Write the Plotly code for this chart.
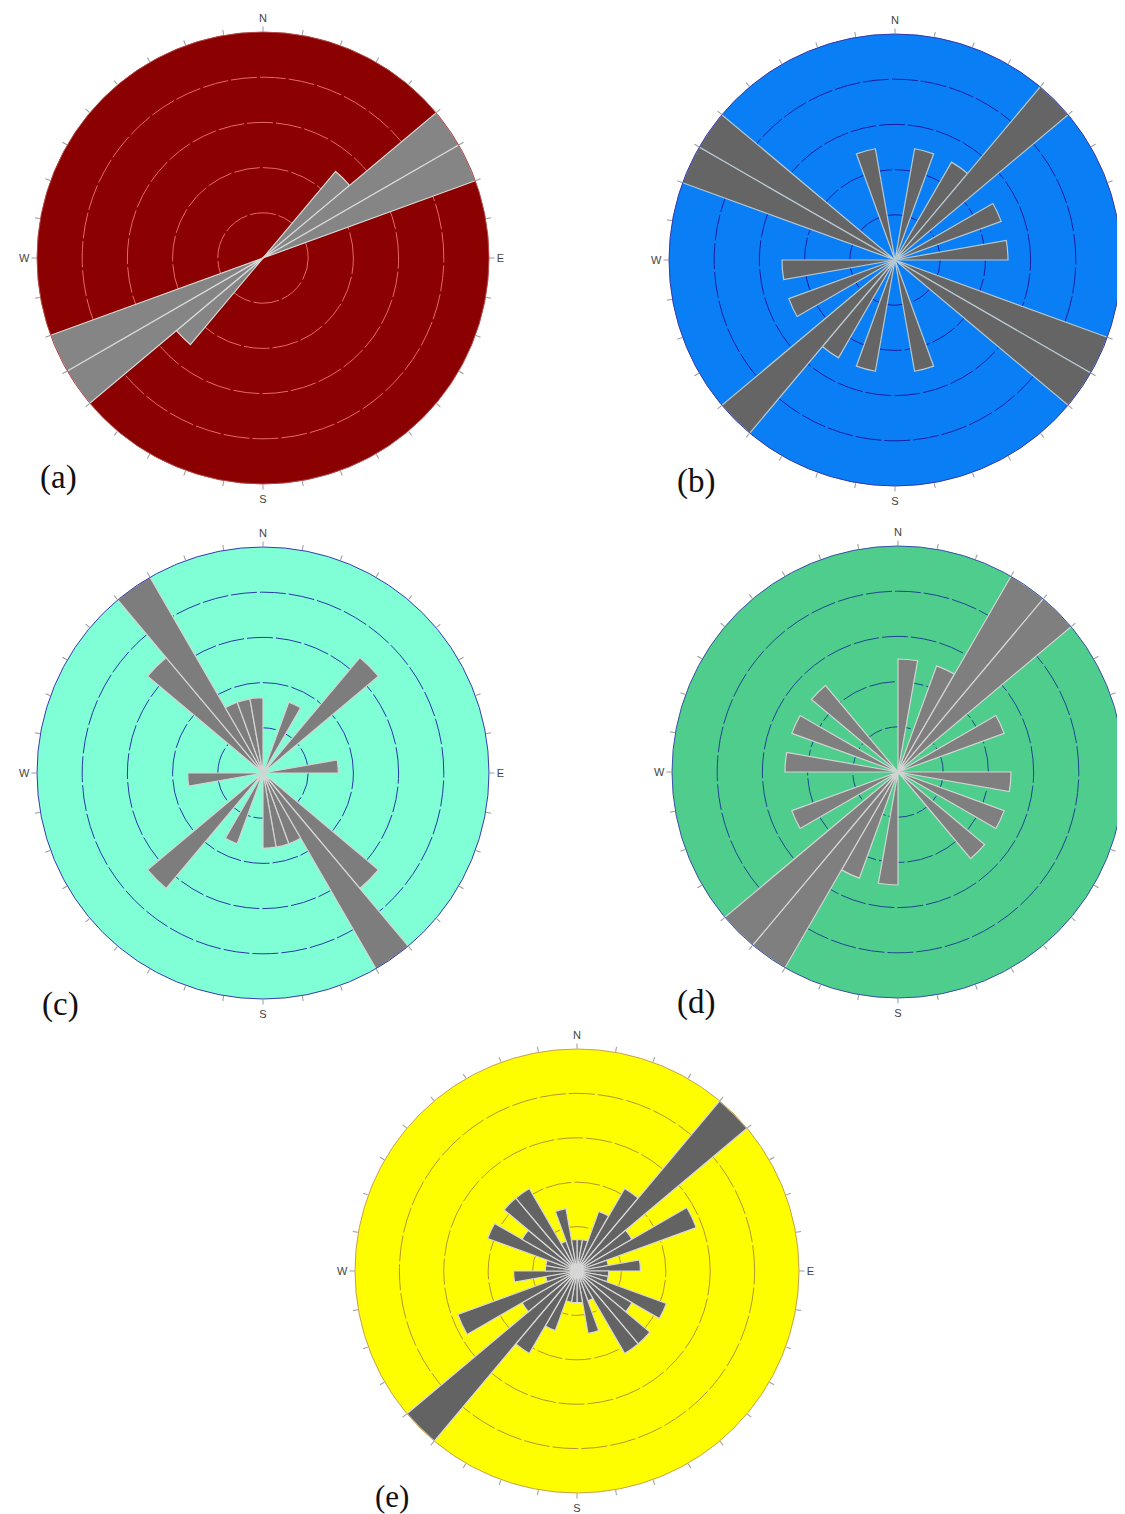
import plotly.graph_objects as go

# 10-degree direction bins (centres) shared by all rose diagrams
bin_centres = [5 + 10 * i for i in range(36)]
tick_angles = list(range(0, 360, 10))
tick_labels = ["N" if a == 0 else "E" if a == 90 else "S" if a == 180 else "W" if a == 270 else "" for a in tick_angles]

# counts per bin (bins 0-10, 10-20, ..., 350-360)
half_a = [0, 0, 0, 0, 1, 2, 2, 0, 0, 0, 0, 0, 0, 0, 0, 0, 0, 0]
half_b = [0, 1, 0, 1, 2, 0, 1, 0, 1, 0, 0, 2, 2, 0, 0, 0, 1, 0]
half_c = [0, 0, 1, 0, 2, 0, 0, 0, 1, 0, 0, 0, 0, 2, 3, 1, 1, 1]
half_d = [1, 0, 1, 2, 2, 0, 1, 0, 0, 1, 0, 1, 0, 1, 0, 0, 0, 0]
half_e = [1, 1, 2, 3, 7, 2, 4, 1, 2, 1, 1, 3, 2, 3, 3, 1, 2, 1]
counts_a = half_a + half_a
counts_b = half_b + half_b
counts_c = half_c + half_c
counts_d = half_d + half_d
counts_e = half_e + half_e

panel_names = ["(a)", "(b)", "(c)", "(d)", "(e)"]
panel_counts = [counts_a, counts_b, counts_c, counts_d, counts_e]
panel_max = [2, 2, 3, 2, 7]

W, H = 1125, 1514
# styling per panel
centres = [(255, 250), (887, 252), (255, 765), (890, 764), (569, 1263)]
radii = [226, 226, 226, 226, 222]
bg_colors = ["#8b0000", "#0a7ff5", "#80fed5", "#4ecd8d", "#fefe00"]
ring_colors = ["#e56a66", "#1c1ca0", "#2838a6", "#1f4690", "#b99234"]
outer_colors = ["#b24848", "#3838a8", "#3a3ab0", "#3a50a8", "#c8a050"]
petal_colors = ["#858585", "#656565", "#7d7d7d", "#7f7f7f", "#636363"]
edge_colors = ["#d8d8d8", "#b8c8d0", "#d4d4d4", "#d4d4d4", "#d8d8d8"]
label_pos = [(50, 470), (688, 473), (52, 996), (688, 994), (384, 1488)]

fig = go.Figure()
layout_polars = {}
for k in range(5):
    pid = "polar" if k == 0 else f"polar{k+1}"
    fig.add_trace(go.Barpolar(
        r=panel_counts[k], theta=bin_centres, width=[10] * 36,
        marker=dict(color=petal_colors[k], line=dict(color=edge_colors[k], width=1.2)),
        subplot=pid, showlegend=False, hoverinfo="skip"))
    cx, cy = centres[k]
    rad = radii[k]
    m = panel_max[k]
    layout_polars[pid] = dict(
        domain=dict(x=[(cx - rad) / W, (cx + rad) / W],
                    y=[(H - cy - rad) / H, (H - cy + rad) / H]),
        bgcolor=bg_colors[k],
        radialaxis=dict(range=[0, m], tickvals=[m * j / 5 for j in range(1, 5)],
                        showticklabels=False, ticks="", showline=False,
                        gridcolor=ring_colors[k], gridwidth=1, griddash="26px,3px"),
        angularaxis=dict(rotation=90, direction="clockwise", tickmode="array",
                         tickvals=tick_angles, ticktext=tick_labels,
                         ticks="outside", ticklen=5, tickcolor="#9a9a9a", tickwidth=1,
                         showgrid=False, showline=True, linecolor=outer_colors[k], linewidth=1,
                         tickfont=dict(family="Liberation Sans", size=11, color="#444444")),
    )

annotations = []
for k in range(5):
    x, y = label_pos[k]
    annotations.append(dict(text=panel_names[k], x=x / W, y=1 - y / H, xref="paper", yref="paper",
                            showarrow=False, xanchor="center", yanchor="middle",
                            font=dict(family="Liberation Serif", size=33 if k < 4 else 31, color="#111111")))

fig.update_layout(width=W, height=H, margin=dict(l=0, r=0, t=0, b=0),
                  paper_bgcolor="white", plot_bgcolor="white",
                  annotations=annotations, **layout_polars)
fig.write_html("out.html")
